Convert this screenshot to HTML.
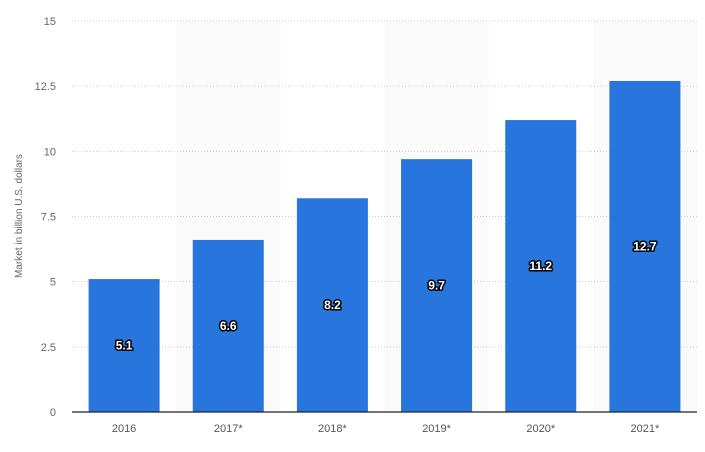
<!DOCTYPE html>
<html><head><meta charset="utf-8"><style>
body{margin:0;background:#fff;}
svg{display:block;font-family:"Liberation Sans",sans-serif;}
.val{font-weight:bold;font-size:12px;fill:#fff;stroke:#000;stroke-width:3px;paint-order:stroke;stroke-linejoin:round;}
</style></head><body>
<svg id="chart" width="705" height="452">
<g id="bands"></g><g id="grid"></g><g id="bars"></g><g id="labels"></g>
<text transform="translate(22,216) rotate(-90)" text-anchor="middle" font-size="10" fill="#666">Market in billion U.S. dollars</text>
</svg>
<script>
const categories=["2016","2017*","2018*","2019*","2020*","2021*"];
const values=[5.1,6.6,8.2,9.7,11.2,12.7];
const ticks=[0,2.5,5,7.5,10,12.5,15];
const tickLabels=["0","2.5","5","7.5","10","12.5","15"];
const L=72,R=697,B=412,T=21,yMax=15;
const NS="http://www.w3.org/2000/svg";
const y=v=>B-(v/yMax)*(B-T);
const bw=(R-L)/categories.length;
const x=i=>L+i*bw;
function mk(tag,attrs,parent,text){const e=document.createElementNS(NS,tag);for(const k in attrs)e.setAttribute(k,attrs[k]);if(text!==undefined)e.textContent=text;document.getElementById(parent).appendChild(e);return e;}
categories.forEach((c,i)=>{if(i%2===1){const b=mk('rect',{x:x(i),y:T,width:bw,height:B-T,fill:'#fafafa'},'bands');

}});
ticks.forEach((t,i)=>{
 if(t>0){const g=mk('line',{x1:L,x2:R,y1:y(t),y2:y(t),stroke:'#ccc','stroke-dasharray':'1,2'},'grid');
 
 }
 const tl=mk('text',{x:56,y:y(t)+4,'text-anchor':'end','font-size':'11',fill:'#666'},'grid',tickLabels[i]);
 
 
});
values.forEach((v,i)=>{
 const cx=x(i)+bw/2;
 const r=mk('rect',{x:cx-35.5,y:y(v),width:71,height:B-y(v),fill:'#2876dd'},'bars');
 
 
 const t=mk('text',{x:cx,y:(y(v)+B)/2+4,'text-anchor':'middle',class:'val'},'labels',String(v));
 
 
 const c=mk('text',{x:cx,y:432,'text-anchor':'middle','font-size':'11',fill:'#555'},'labels',categories[i]);
 
 
});
const ax=mk('line',{x1:L,x2:R,y1:B,y2:B,stroke:'#222','stroke-width':1.3},'labels');


</script>
</body></html>
